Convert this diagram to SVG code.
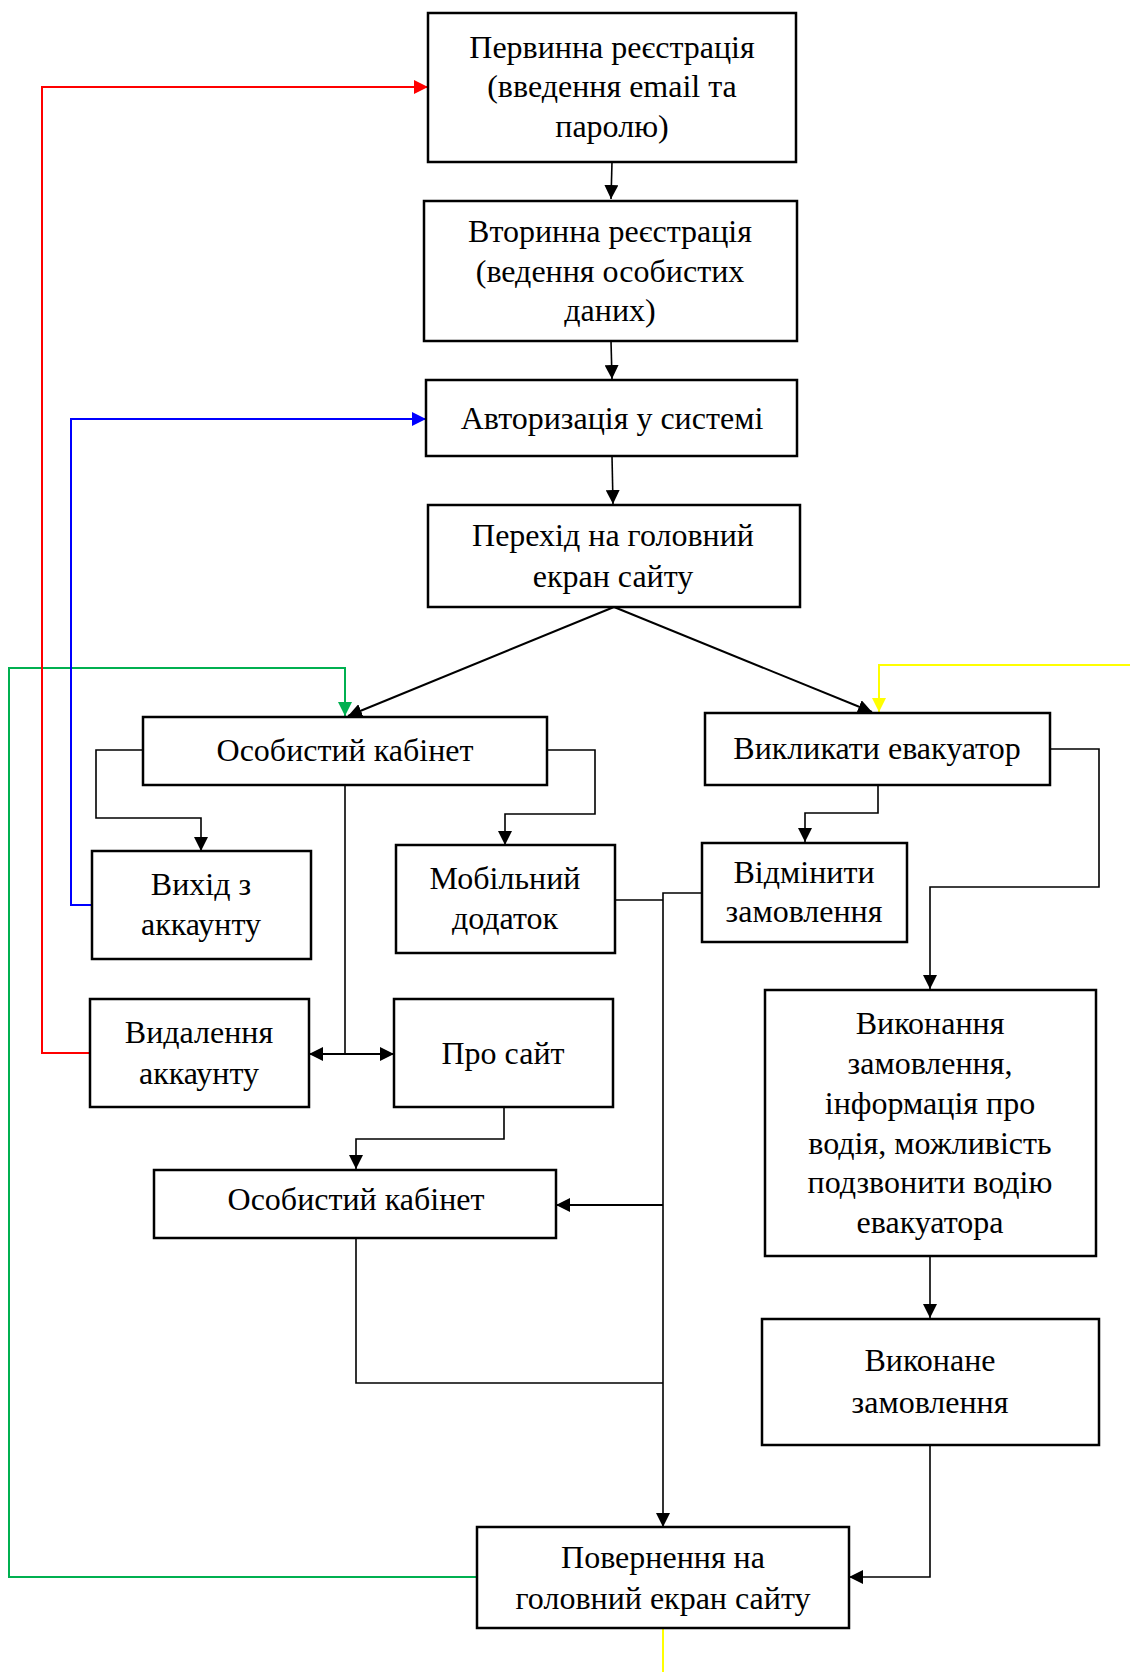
<svg xmlns="http://www.w3.org/2000/svg" width="1130" height="1672" viewBox="0 0 1130 1672">
<style>
.box{fill:#fff;stroke:#000;stroke-width:2.5}
.t{font-family:"Liberation Serif","Times New Roman",serif;font-size:32px;fill:#000;text-anchor:middle}
.c{fill:none;stroke:#000;stroke-width:1.6}
.cd{fill:none;stroke:#000;stroke-width:2}
</style>
<defs>
<marker id="ab" viewBox="0 0 14 14" refX="14" refY="7" markerWidth="14" markerHeight="14" markerUnits="userSpaceOnUse" orient="auto"><path d="M0,0 L14,7 L0,14 z" fill="#000"/></marker>
<marker id="ar" viewBox="0 0 14 14" refX="14" refY="7" markerWidth="14" markerHeight="14" markerUnits="userSpaceOnUse" orient="auto"><path d="M0,0 L14,7 L0,14 z" fill="#ff0000"/></marker>
<marker id="abl" viewBox="0 0 14 14" refX="14" refY="7" markerWidth="14" markerHeight="14" markerUnits="userSpaceOnUse" orient="auto"><path d="M0,0 L14,7 L0,14 z" fill="#0000ff"/></marker>
<marker id="ag" viewBox="0 0 14 14" refX="14" refY="7" markerWidth="14" markerHeight="14" markerUnits="userSpaceOnUse" orient="auto"><path d="M0,0 L14,7 L0,14 z" fill="#00b050"/></marker>
<marker id="ay" viewBox="0 0 14 14" refX="14" refY="7" markerWidth="14" markerHeight="14" markerUnits="userSpaceOnUse" orient="auto"><path d="M0,0 L14,7 L0,14 z" fill="#ffff00"/></marker>
</defs>
<rect width="1130" height="1672" fill="#fff"/>
<g id="connectors">
<path class="c" d="M612,162 L611,199" marker-end="url(#ab)"/>
<path class="c" d="M611,341 L612,379" marker-end="url(#ab)"/>
<path class="c" d="M612,456 L613,504" marker-end="url(#ab)"/>
<path class="cd" d="M614,607 L348,716" marker-end="url(#ab)"/>
<path class="cd" d="M614,607 L872,712" marker-end="url(#ab)"/>
<path d="M477,1577 H9 V668 H345 V716" fill="none" stroke="#00b050" stroke-width="2" marker-end="url(#ag)"/>
<path d="M1130,665 H879 V712" fill="none" stroke="#ffff00" stroke-width="2" marker-end="url(#ay)"/>
<path d="M663,1629 V1672" fill="none" stroke="#ffff00" stroke-width="2"/>
<path d="M90,1053 H42 V87 H428" fill="none" stroke="#ff0000" stroke-width="2" marker-end="url(#ar)"/>
<path d="M92,905 H71 V419 H426" fill="none" stroke="#0000ff" stroke-width="2" marker-end="url(#abl)"/>
<path class="c" d="M143,750 H96 V818 H201 V851" marker-end="url(#ab)"/>
<path class="c" d="M547,750 H595 V814 H505 V845" marker-end="url(#ab)"/>
<path class="c" d="M345,785 V1054"/>
<path class="cd" d="M345,1054 H309" marker-end="url(#ab)"/>
<path class="cd" d="M345,1054 H394" marker-end="url(#ab)"/>
<path class="c" d="M878,785 V813 H805 V842" marker-end="url(#ab)"/>
<path class="c" d="M1050,749 H1099 V887 H930 V989" marker-end="url(#ab)"/>
<path class="c" d="M615,900 H663"/>
<path class="c" d="M702,893 H663 V1527" marker-end="url(#ab)"/>
<path class="cd" d="M663,1205 H556" marker-end="url(#ab)"/>
<path class="c" d="M504,1107 V1139 H356 V1169" marker-end="url(#ab)"/>
<path class="c" d="M356,1238 V1383 H663"/>
<path class="c" d="M930,1256 V1318" marker-end="url(#ab)"/>
<path class="c" d="M930,1445 V1577 H849" marker-end="url(#ab)"/>
</g>
<g id="n1"><rect class="box" x="428" y="13" width="368" height="149"/>
<text class="t" x="612" y="58">Первинна реєстрація</text><text class="t" x="612" y="97">(введення email та</text><text class="t" x="612" y="137">паролю)</text></g>
<g id="n2"><rect class="box" x="424" y="201" width="373" height="140"/>
<text class="t" x="610" y="242">Вторинна реєстрація</text><text class="t" x="610" y="282">(ведення особистих</text><text class="t" x="610" y="321">даних)</text></g>
<g id="n3"><rect class="box" x="426" y="380" width="371" height="76"/>
<text class="t" x="612" y="429">Авторизація у системі</text></g>
<g id="n4"><rect class="box" x="428" y="505" width="372" height="102"/>
<text class="t" x="613" y="546">Перехід на головний</text><text class="t" x="613" y="587">екран сайту</text></g>
<g id="n5"><rect class="box" x="143" y="717" width="404" height="68"/>
<text class="t" x="345" y="761">Особистий кабінет</text></g>
<g id="n6"><rect class="box" x="705" y="713" width="345" height="72"/>
<text class="t" x="877" y="759">Викликати евакуатор</text></g>
<g id="n7"><rect class="box" x="92" y="851" width="219" height="108"/>
<text class="t" x="201" y="895">Вихід з</text><text class="t" x="201" y="935">аккаунту</text></g>
<g id="n8"><rect class="box" x="396" y="845" width="219" height="108"/>
<text class="t" x="505" y="889">Мобільний</text><text class="t" x="505" y="929">додаток</text></g>
<g id="n9"><rect class="box" x="702" y="843" width="205" height="99"/>
<text class="t" x="804" y="883">Відмінити</text><text class="t" x="804" y="922">замовлення</text></g>
<g id="n10"><rect class="box" x="90" y="999" width="219" height="108"/>
<text class="t" x="199" y="1043">Видалення</text><text class="t" x="199" y="1084">аккаунту</text></g>
<g id="n11"><rect class="box" x="394" y="999" width="219" height="108"/>
<text class="t" x="503" y="1064">Про сайт</text></g>
<g id="n12"><rect class="box" x="154" y="1170" width="402" height="68"/>
<text class="t" x="356" y="1210">Особистий кабінет</text></g>
<g id="n13"><rect class="box" x="765" y="990" width="331" height="266"/>
<text class="t" x="930" y="1034">Виконання</text><text class="t" x="930" y="1074">замовлення,</text><text class="t" x="930" y="1114">інформація про</text><text class="t" x="930" y="1154">водія, можливість</text><text class="t" x="930" y="1193">подзвонити водію</text><text class="t" x="930" y="1233">евакуатора</text></g>
<g id="n14"><rect class="box" x="762" y="1319" width="337" height="126"/>
<text class="t" x="930" y="1371">Виконане</text><text class="t" x="930" y="1413">замовлення</text></g>
<g id="n15"><rect class="box" x="477" y="1527" width="372" height="101"/>
<text class="t" x="663" y="1568">Повернення на</text><text class="t" x="663" y="1609">головний екран сайту</text></g>
</svg>
